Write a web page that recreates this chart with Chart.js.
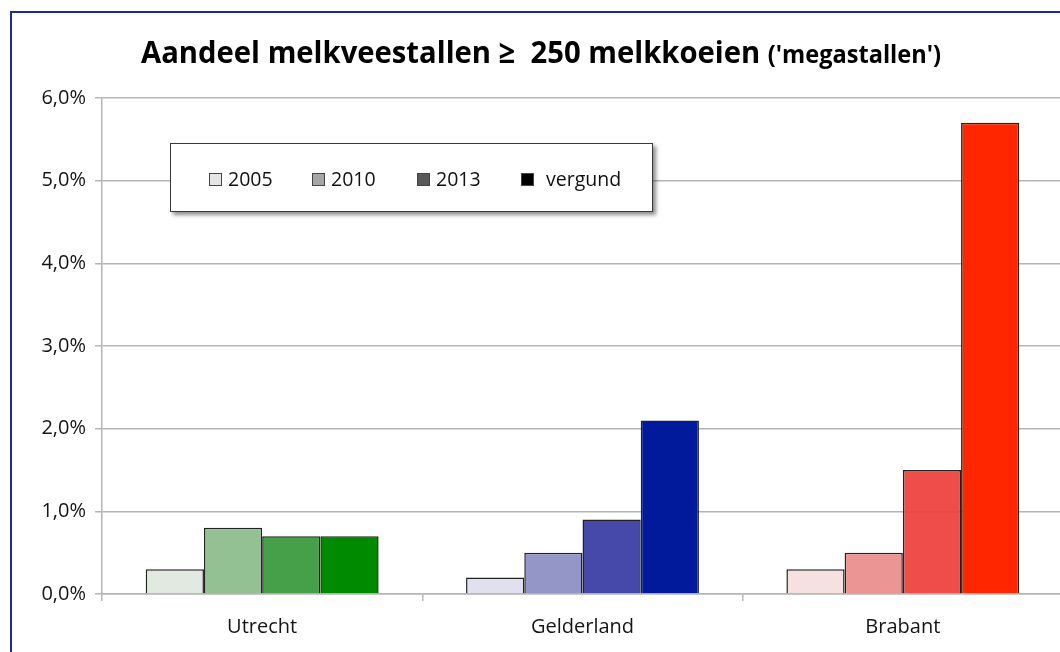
<!DOCTYPE html>
<html lang="nl">
<head>
<meta charset="utf-8">
<title>Aandeel melkveestallen ≥ 250 melkkoeien</title>
<script src="https://cdn.jsdelivr.net/npm/chart.js@4.4.1/dist/chart.umd.min.js"></script>
<style>
	html, body {
		margin: 0;
		padding: 0;
		width: 1060px;
		height: 652px;
		overflow: hidden;
		background: #fff;
		font-family: "Open Sans", sans-serif;
	}
	#frame {
		position: absolute;
		left: 10px;
		top: 11px;
		width: 1100px;
		height: 700px;
		border-left: 2px solid #1b2b9e;
		border-top: 2px solid #1b2b9e;
	}
	#chart-wrap {
		position: absolute;
		left: 0;
		top: 0;
		width: 1070px;
		height: 652px;
	}
	#title {
		position: absolute;
		left: 10px;
		top: 29px;
		width: 1062px;
		text-align: center;
		white-space: pre;
		font-weight: 700;
		font-size: 31px;
		line-height: 44px;
		color: #000;
		transform: scaleX(0.943);
	}
	#title small {
		font-size: 25px;
		font-weight: 700;
	}
	#legend {
		position: absolute;
		left: 170px;
		top: 143px;
		width: 481px;
		height: 67px;
		border: 1px solid #3a3a3a;
		background: #fff;
		box-shadow: 3px 3px 4px rgba(0, 0, 0, 0.45);
	}
	.ta-item {
		position: absolute;
		top: 21px;
		height: 28px;
		line-height: 28px;
		font-size: 19.5px;
		color: #111;
		white-space: pre;
	}
	.ta-swatch {
		display: inline-block;
		width: 11px;
		height: 11px;
		border: 1px solid #444;
		margin-right: 6px;
		vertical-align: 0px;
	}
</style>
</head>
<body>
<div id="frame"></div>
<div id="chart-wrap"><canvas id="bar-chart" width="1070" height="652"></canvas></div>
<div id="title">Aandeel melkveestallen ≥  250 melkkoeien <small>('megastallen')</small></div>
<div id="legend"></div>
<script>
	'use strict';

	// provinces on the x axis
	var provinces = ['Utrecht', 'Gelderland', 'Brabant'];

	// share of dairy farms with >= 250 cows, in percent
	var years = ['2005', '2010', '2013', 'vergund'];
	var share2005 = [0.3, 0.2, 0.3];
	var share2010 = [0.8, 0.5, 0.5];
	var share2013 = [0.7, 0.9, 1.5];
	var shareVergund = [0.7, 2.1, 5.7];

	// y axis
	var yMax = 6;
	var yStep = 1;

	// colours per series, one per province
	var colors2005 = ['#e1e9e1', '#e0e0ef', '#f6e1e1'];
	var colors2010 = ['#93c193', '#9596c8', '#eb9694'];
	var colors2013 = ['rgba(58, 154, 62, 0.94)', 'rgba(58, 62, 164, 0.94)', 'rgba(238, 66, 62, 0.94)'];
	var colorsVergund = ['#008a00', '#001a9b', '#ff2600'];
	var legendColors = ['#e6e6e6', '#a6a6a6', '#595959', '#000000'];

	var TAChart = {
		init: function () {
			this.renderLegend();
			this.renderChart();
		},

		/**
		 * Legend box inside the plot area
		 */
		renderLegend: function () {
			var box = document.getElementById('legend');
			var lefts = [38, 141, 246, 350];
			years.forEach(function (year, i) {
				var item = document.createElement('div');
				item.className = 'ta-item';
				item.style.left = lefts[i] + 'px';
				var sw = document.createElement('span');
				sw.className = 'ta-swatch';
				sw.style.background = legendColors[i];
				if (year === 'vergund') {
					sw.style.marginRight = '12px';
				}
				item.appendChild(sw);
				item.appendChild(document.createTextNode(year));
				box.appendChild(item);
			});
		},

		/**
		 * Grouped bar chart
		 */
		renderChart: function () {
			var ctx = document.getElementById('bar-chart');
			var series = [share2005, share2010, share2013, shareVergund];
			var fills = [colors2005, colors2010, colors2013, colorsVergund];

			var datasets = years.map(function (year, i) {
				return {
					label: year,
					data: series[i],
					backgroundColor: fills[i],
					borderColor: '#222',
					borderWidth: 1.5,
					borderSkipped: 'bottom',
					categoryPercentage: 0.727,
					barPercentage: 1
				};
			});

			new Chart(ctx, {
				type: 'bar',
				data: {
					labels: provinces,
					datasets: datasets
				},
				options: {
					responsive: false,
					animation: false,
					events: [],
					layout: {
						padding: { left: 0, right: 7, top: 98, bottom: 0 }
					},
					plugins: {
						legend: { display: false },
						title: { display: false },
						tooltip: { enabled: false }
					},
					scales: {
						x: {
							offset: true,
							grid: {
								display: true,
								drawOnChartArea: false,
								drawTicks: true,
								tickLength: 7,
								color: '#b5b5b5',
								lineWidth: 1.5
							},
							border: { display: true, color: '#b5b5b5', width: 1.5 },
							ticks: {
								color: '#151515',
								padding: 14,
								font: { family: 'Open Sans', size: 20 }
							},
							afterFit: function (scale) {
								scale.height = 58;
							}
						},
						y: {
							min: 0,
							max: yMax,
							grid: {
								color: '#b5b5b5',
								lineWidth: 1.5,
								drawTicks: true,
								tickLength: 7
							},
							border: { display: true, color: '#b5b5b5', width: 1.5 },
							ticks: {
								stepSize: yStep,
								color: '#151515',
								padding: 9,
								font: { family: 'Open Sans', size: 20 },
								callback: function (value) {
									return value.toFixed(1).replace('.', ',') + '%';
								}
							},
							afterFit: function (scale) {
								scale.width = 102;
							}
						}
					}
				}
			});
		}
	};

	TAChart.init();
</script>
</body>
</html>
